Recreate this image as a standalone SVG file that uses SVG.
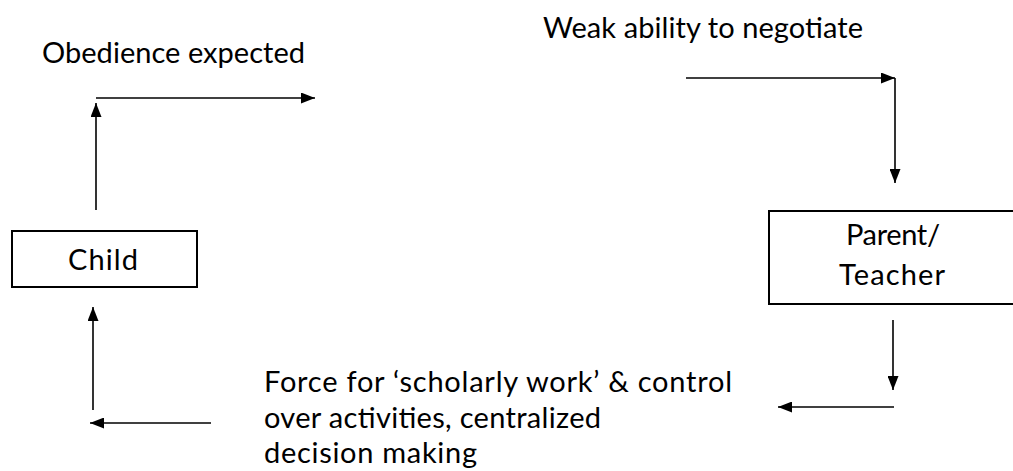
<svg xmlns="http://www.w3.org/2000/svg" width="1013" height="471" viewBox="0 0 1013 471">
<style>
.t{font-family:"Lato","Open Sans","Liberation Sans",sans-serif;font-size:29px;fill:#000}
.box{fill:#fff;stroke:#000;stroke-width:2}
.c{stroke:#000;stroke-width:1.6;fill:none;marker-end:url(#ah)}
</style>
<defs>
<marker id="ah" viewBox="0 0 14 11" refX="14" refY="5.5" markerWidth="14" markerHeight="11" markerUnits="userSpaceOnUse" orient="auto">
<path d="M0,0 L14,5.5 L0,11 Z" fill="#000"/>
</marker>
</defs>
<rect width="1013" height="471" fill="#fff"/>
<g id="child">
<rect class="box" x="12" y="231" width="185" height="56"/>
<text class="t" x="68" y="270" textLength="70" lengthAdjust="spacing">Child</text>
</g>
<g id="parent">
<rect class="box" x="769" y="211" width="260" height="93"/>
<text class="t" x="846" y="245" textLength="94" lengthAdjust="spacing">Parent/</text>
<text class="t" x="839" y="285" textLength="106" lengthAdjust="spacing">Teacher</text>
</g>
<g id="labels">
<text class="t" x="42" y="63" textLength="263" lengthAdjust="spacing">Obedience expected</text>
<text class="t" x="543" y="38" textLength="320" lengthAdjust="spacing">Weak ability to negotiate</text>
<text class="t" x="264" y="392" textLength="468" lengthAdjust="spacing">Force for ‘scholarly work’ &amp; control</text>
<text class="t" x="264" y="428" textLength="337" lengthAdjust="spacing">over activities, centralized</text>
<text class="t" x="264" y="463" textLength="213" lengthAdjust="spacing">decision making</text>
</g>
<g id="connectors">
<line class="c" x1="96" y1="210" x2="96" y2="103"/>
<line class="c" x1="96" y1="98" x2="315" y2="98"/>
<line class="c" x1="686" y1="78" x2="895" y2="78"/>
<line class="c" x1="895" y1="78" x2="895" y2="183"/>
<line class="c" x1="893" y1="320" x2="893" y2="390"/>
<line class="c" x1="894" y1="407" x2="778" y2="407"/>
<line class="c" x1="211" y1="423" x2="90" y2="423"/>
<line class="c" x1="93" y1="410" x2="93" y2="307"/>
</g>
</svg>
